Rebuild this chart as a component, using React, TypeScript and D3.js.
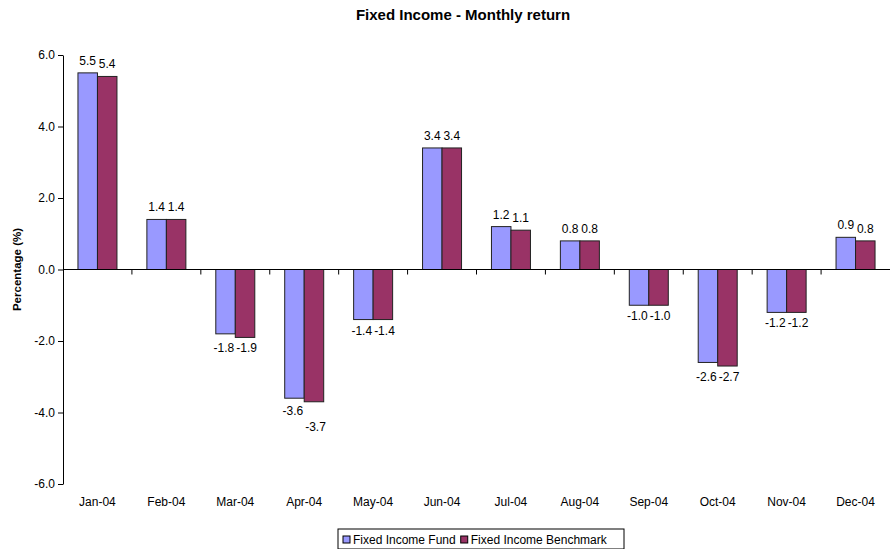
import React, { useRef, useEffect } from 'react';
import { select, scaleBand, scaleLinear, axisLeft } from 'd3';

const months = ['Jan-04', 'Feb-04', 'Mar-04', 'Apr-04', 'May-04', 'Jun-04', 'Jul-04', 'Aug-04', 'Sep-04', 'Oct-04', 'Nov-04', 'Dec-04'];
const fundValues = [5.5, 1.4, -1.8, -3.6, -1.4, 3.4, 1.2, 0.8, -1.0, -2.6, -1.2, 0.9];
const benchValues = [5.4, 1.4, -1.9, -3.7, -1.4, 3.4, 1.1, 0.8, -1.0, -2.7, -1.2, 0.8];
const seriesNames = ['Fixed Income Fund', 'Fixed Income Benchmark'];
const yTicks = [-6, -4, -2, 0, 2, 4, 6];
// months whose labels Excel staggered instead of putting on one line
const staggered = ['Apr-04'];

const COLORS = ['#9999FF', '#993366'];
const FONT = '"Liberation Sans", Arial, sans-serif';
const fmt = (d: number) => d.toFixed(1);

const App = () => {
  const svgRef = useRef(null);
  const width = 890;
  const height = 549;
  const margin = { top: 55, right: 0, bottom: 65, left: 63 };

  useEffect(() => {
    const svg = select(svgRef.current);
    svg.selectAll('*').remove();

    const x = scaleBand().domain(months).range([margin.left, width - margin.right]);
    const y = scaleLinear().domain([-6, 6]).range([height - margin.bottom, margin.top]);
    const barW = 19.5;

    svg.append('text')
      .attr('x', 463).attr('y', 20)
      .attr('text-anchor', 'middle')
      .style('font', `bold 15px ${FONT}`)
      .text('Fixed Income - Monthly return');

    // y axis
    const yAxis = axisLeft(y).tickValues(yTicks).tickFormat(fmt).tickSize(5).tickSizeOuter(0);
    const gy = svg.append('g').attr('transform', `translate(${margin.left},0)`).call(yAxis);
    gy.select('.domain').attr('stroke', '#000');
    gy.selectAll('.tick line').attr('stroke', '#000');
    gy.selectAll('.tick text').attr('x', -8).style('font', `12px ${FONT}`).attr('fill', '#000');

    svg.append('text')
      .attr('transform', `translate(21,${y(0)}) rotate(-90)`)
      .attr('text-anchor', 'middle')
      .style('font', `bold 11.5px ${FONT}`)
      .text('Percentage (%)');

    // bars
    const series = [fundValues, benchValues];
    series.forEach((vals, si) => {
      svg.append('g').selectAll('rect')
        .data(vals)
        .join('rect')
        .attr('x', (d, i) => x(months[i]) + x.bandwidth() / 2 - barW + si * barW)
        .attr('y', d => y(Math.max(0, d)))
        .attr('width', barW)
        .attr('height', d => Math.abs(y(d) - y(0)))
        .attr('fill', COLORS[si])
        .attr('stroke', '#222')
        .attr('stroke-width', 1);

      svg.append('g').selectAll('text')
        .data(vals)
        .join('text')
        .attr('x', (d, i) => {
          const c = x(months[i]) + x.bandwidth() / 2;
          if (d >= 0) return c - barW / 2 + si * barW;
          return si === 0 ? c - 1 : c + 1;
        })
        .attr('y', (d, i) => {
          if (d >= 0) return y(d) - 8;
          if (staggered.includes(months[i])) return y(d) + 17 + si * 12;
          const low = Math.min(fundValues[i], benchValues[i]);
          return y(low) + 15;
        })
        .attr('text-anchor', d => (d >= 0 ? 'middle' : si === 0 ? 'end' : 'start'))
        .style('font', `12px ${FONT}`)
        .text(d => fmt(d));
    });

    // zero line with category ticks
    svg.append('line')
      .attr('x1', margin.left).attr('x2', width - margin.right)
      .attr('y1', y(0)).attr('y2', y(0))
      .attr('stroke', '#000');
    svg.append('g').selectAll('line')
      .data(months.slice(1))
      .join('line')
      .attr('x1', d => x(d)).attr('x2', d => x(d))
      .attr('y1', y(0)).attr('y2', y(0) + 5)
      .attr('stroke', '#000');

    svg.append('g').selectAll('text')
      .data(months)
      .join('text')
      .attr('x', d => x(d) + x.bandwidth() / 2)
      .attr('y', height - margin.bottom + 22)
      .attr('text-anchor', 'middle')
      .style('font', `12px ${FONT}`)
      .text(d => d);

    // legend
    const lg = svg.append('g').attr('transform', 'translate(338,529)');
    const box = lg.append('rect').attr('height', 20)
      .attr('fill', '#fff').attr('stroke', '#000');
    let lx = 5;
    seriesNames.forEach((name, i) => {
      lg.append('rect').attr('x', lx).attr('y', 7).attr('width', 7).attr('height', 7)
        .attr('fill', COLORS[i]).attr('stroke', '#000');
      const t = lg.append('text').attr('x', lx + 10).attr('y', 14.5)
        .style('font', `12px ${FONT}`).text(name);
      lx += 10 + t.node().getComputedTextLength() + 5;
    });
    box.attr('width', Math.max(286, lx));
  }, []);

  return (
    <div style={{ position: 'absolute', left: 0, top: 0 }}>
      <svg ref={svgRef} width={width} height={height} style={{ display: 'block', background: '#fff' }} />
    </div>
  );
};

export default App;
